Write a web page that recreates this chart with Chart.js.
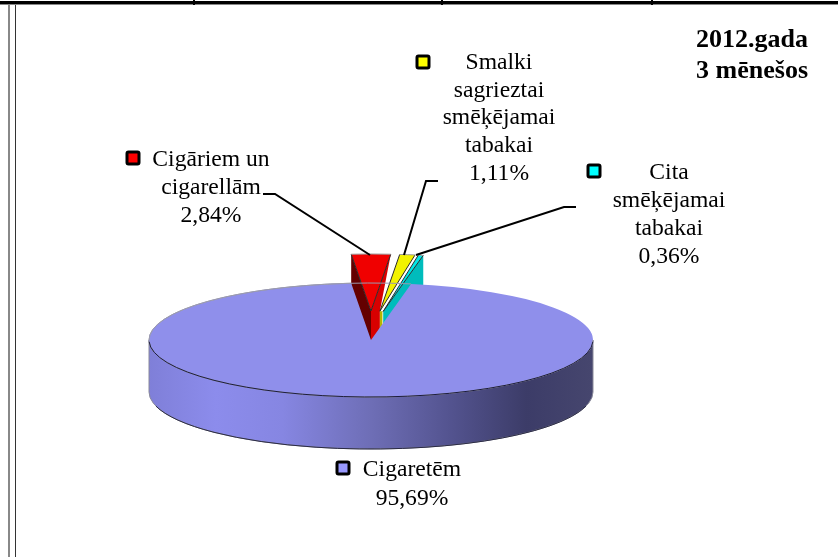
<!DOCTYPE html>
<html>
<head>
<meta charset="utf-8">
<title>2012.gada 3 mēnešos</title>
<script src="https://cdn.jsdelivr.net/npm/chart.js@4"></script>
<style>
  html, body { margin:0; padding:0; background:#fff; overflow:hidden; }
  #wrap { position:relative; width:838px; height:557px; }
  canvas { position:absolute; left:0; top:0; }
  .rule { position:absolute; }
</style>
</head>
<body>
<div id="wrap">
  <canvas id="chart" width="838" height="557"></canvas>
  <!-- table frame around the chart in the source document -->
  <div class="rule" style="left:0;top:1px;width:838px;height:3px;background:#000"></div>
  <div class="rule" style="left:0;top:4px;width:838px;height:1px;background:#888"></div>
  <div class="rule" style="left:193px;top:0;width:2px;height:5px;background:#000"></div>
  <div class="rule" style="left:441px;top:0;width:2px;height:5px;background:#000"></div>
  <div class="rule" style="left:651px;top:0;width:2px;height:5px;background:#000"></div>
  <div class="rule" style="left:8px;top:5px;width:2px;height:552px;background:#888"></div>
  <div class="rule" style="left:15px;top:5px;width:1px;height:552px;background:#333"></div>
</div>
<script>
const categories = ['Cigaretēm', 'Cigāriem un cigarellām', 'Smalki sagrieztai smēķējamai tabakai', 'Cita smēķējamai tabakai'];
const shares     = [95.69, 2.84, 1.11, 0.36];
const labelLines = [['Cigaretēm'], ['Cigāriem un', 'cigarellām'], ['Smalki', 'sagrieztai', 'smēķējamai', 'tabakai'], ['Cita', 'smēķējamai', 'tabakai']];
const titleLines = ['2012.gada', '3 mēnešos'];
const colors     = ['#8f8feb', '#f00000', '#f2f200', '#00e6e6'];
const keyColors  = ['#9999ff', '#ff0000', '#ffff00', '#00ffff'];

// look of the tilted pie
const CX = 371, CY = 340, RX = 222, RY = 57, DEPTH = 52;
const EXPLODE_X = 72, EXPLODE_Y = 29;
const FONT = '"Liberation Serif", "Times New Roman", serif';

// where each label sits: text centre x, first line y, line gap, legend key x/y
const labelPos = [
  { x:412, y:470, gap:29, kx:343, ky:468 },
  { x:211, y:160, gap:28, kx:133, ky:158 },
  { x:499, y:63,  gap:27.6, kx:423, ky:62 },
  { x:669, y:173, gap:28, kx:594, ky:171 }
];
const leaders = [
  null,
  [[263,194],[275,194],[370,255]],
  [[438,181],[426,181],[404,255]],
  [[576,207],[564,207],[416,255]]
];

function poly(ctx, pts, fill) {
  ctx.beginPath();
  pts.forEach((p, i) => i ? ctx.lineTo(p[0], p[1]) : ctx.moveTo(p[0], p[1]));
  ctx.closePath();
  ctx.fillStyle = fill;
  ctx.fill();
}

function slicePoints(el) {
  const mid = (el.startAngle + el.endAngle) / 2;
  const ax = CX + Math.cos(mid) * EXPLODE_X;
  const ay = CY + Math.sin(mid) * EXPLODE_Y;
  return {
    ax, ay,
    p0: [ax + RX * Math.cos(el.startAngle), ay + RY * Math.sin(el.startAngle)],
    p1: [ax + RX * Math.cos(el.endAngle),   ay + RY * Math.sin(el.endAngle)]
  };
}

function topFace(ctx, cx, cy, el, fill) {
  ctx.beginPath();
  ctx.moveTo(cx, cy);
  ctx.ellipse(cx, cy, RX, RY, 0, el.startAngle, el.endAngle);
  ctx.closePath();
  ctx.fillStyle = fill;
  ctx.fill();
}

const pie3d = {
  id: 'pie3d',
  beforeDatasetDraw(chart, args) {
    const ctx = chart.ctx;
    const [main, red, yellow, cyan] = args.meta.data;
    ctx.save();

    // pulled out slices first, the big one covers them
    const r = slicePoints(red), y = slicePoints(yellow), c = slicePoints(cyan);
    poly(ctx, [[r.ax,r.ay], r.p0, [r.p0[0],r.p0[1]+DEPTH], [r.ax,r.ay+DEPTH]], '#640000');
    const rw = (r.p1[0] - r.ax) * 0.45;
    poly(ctx, [[r.ax,r.ay], r.p1, [r.ax+rw,r.ay], [r.ax+rw,r.ay+DEPTH], [r.ax,r.ay+DEPTH]], '#d80000');
    poly(ctx, [[c.ax,c.ay], c.p1, [c.p1[0],c.p1[1]+DEPTH], [c.ax,c.ay+DEPTH]], '#00bcbc');
    poly(ctx, [[y.ax,y.ay], [y.ax+2.5,y.ay], [y.ax+2.5,y.ay+DEPTH], [y.ax,y.ay+DEPTH]], '#b4b400');
    topFace(ctx, c.ax, c.ay, cyan, colors[3]);
    topFace(ctx, y.ax, y.ay, yellow, colors[2]);
    topFace(ctx, r.ax, r.ay, red, colors[1]);
    ctx.lineWidth = 1;
    ctx.strokeStyle = '#2a2a2a';
    [r, y, c].forEach(s => {
      ctx.beginPath();
      ctx.moveTo(s.p0[0], s.p0[1]);
      ctx.lineTo(s.ax, s.ay);
      ctx.lineTo(s.p1[0], s.p1[1]);
      ctx.stroke();
    });
    ctx.strokeStyle = '#9a9a9a';
    [[r,red],[y,yellow],[c,cyan]].forEach(([s, el]) => {
      ctx.beginPath();
      ctx.ellipse(s.ax, s.ay, RX, RY, 0, el.startAngle, el.endAngle);
      ctx.stroke();
    });

    // outer wall of the big slice
    const g = ctx.createLinearGradient(CX - RX, 0, CX + RX, 0);
    g.addColorStop(0,    '#7f7fd8');
    g.addColorStop(0.15, '#8c8cec');
    g.addColorStop(0.3,  '#8686e2');
    g.addColorStop(0.5,  '#6e6eb6');
    g.addColorStop(0.68, '#53538f');
    g.addColorStop(0.85, '#3c3c68');
    g.addColorStop(1,    '#46466e');
    ctx.beginPath();
    ctx.ellipse(CX, CY, RX, RY, 0, 0, Math.PI);
    ctx.lineTo(CX - RX, CY + DEPTH);
    ctx.ellipse(CX, CY + DEPTH, RX, RY, 0, Math.PI, 0, true);
    ctx.closePath();
    ctx.fillStyle = g;
    ctx.fill();
    ctx.strokeStyle = '#8a8a9a';
    ctx.stroke();

    topFace(ctx, CX, CY, main, colors[0]);
    ctx.strokeStyle = '#9a9ab0';
    ctx.beginPath();
    ctx.ellipse(CX, CY, RX, RY, 0, Math.PI, main.endAngle);
    ctx.stroke();
    ctx.beginPath();
    ctx.ellipse(CX, CY, RX, RY, 0, main.startAngle, 0, true);
    ctx.stroke();
    ctx.strokeStyle = '#1c1c3c';
    ctx.beginPath();
    ctx.ellipse(CX, CY, RX, RY, 0, 0.03, Math.PI - 0.03);
    ctx.stroke();
    ctx.strokeStyle = '#2a2a44';
    ctx.beginPath();
    ctx.ellipse(CX, CY + DEPTH, RX, RY, 0, 0.25, Math.PI - 0.25);
    ctx.stroke();

    ctx.restore();
    return false; // default flat arcs are replaced by the tilted ones above
  },
  afterDraw(chart) {
    const ctx = chart.ctx;
    ctx.save();
    ctx.strokeStyle = '#000';
    ctx.lineWidth = 2;
    leaders.forEach(line => {
      if (!line) return;
      ctx.beginPath();
      line.forEach((p, i) => i ? ctx.lineTo(p[0], p[1]) : ctx.moveTo(p[0], p[1]));
      ctx.stroke();
    });

    ctx.font = '23.6px ' + FONT;
    ctx.textAlign = 'center';
    ctx.textBaseline = 'middle';
    labelLines.forEach((lines, i) => {
      const pos = labelPos[i];
      const txt = lines.concat(shares[i].toFixed(2).replace('.', ',') + '%');
      ctx.fillStyle = '#000';
      txt.forEach((t, j) => ctx.fillText(t, pos.x, pos.y + j * pos.gap));

      ctx.beginPath();
      ctx.roundRect(pos.kx - 6, pos.ky - 6, 12, 12, 1.5);
      ctx.fillStyle = keyColors[i];
      ctx.fill();
      ctx.lineWidth = 3;
      ctx.stroke();
    });
    ctx.restore();
  }
};

new Chart(document.getElementById('chart'), {
  type: 'pie',
  data: {
    labels: categories,
    datasets: [{ data: shares, backgroundColor: colors, borderWidth: 0 }]
  },
  options: {
    responsive: false,
    animation: false,
    rotation: 10.4,
    layout: { padding: { right: 30, top: 0 } },
    plugins: {
      legend: { display: false },
      tooltip: { enabled: false },
      title: {
        display: true,
        text: titleLines,
        align: 'end',
        color: '#000',
        font: { family: FONT, size: 26, weight: 'bold', lineHeight: 1.18 },
        padding: { top: 25, bottom: 0 }
      }
    }
  },
  plugins: [pie3d]
});
</script>
</body>
</html>
